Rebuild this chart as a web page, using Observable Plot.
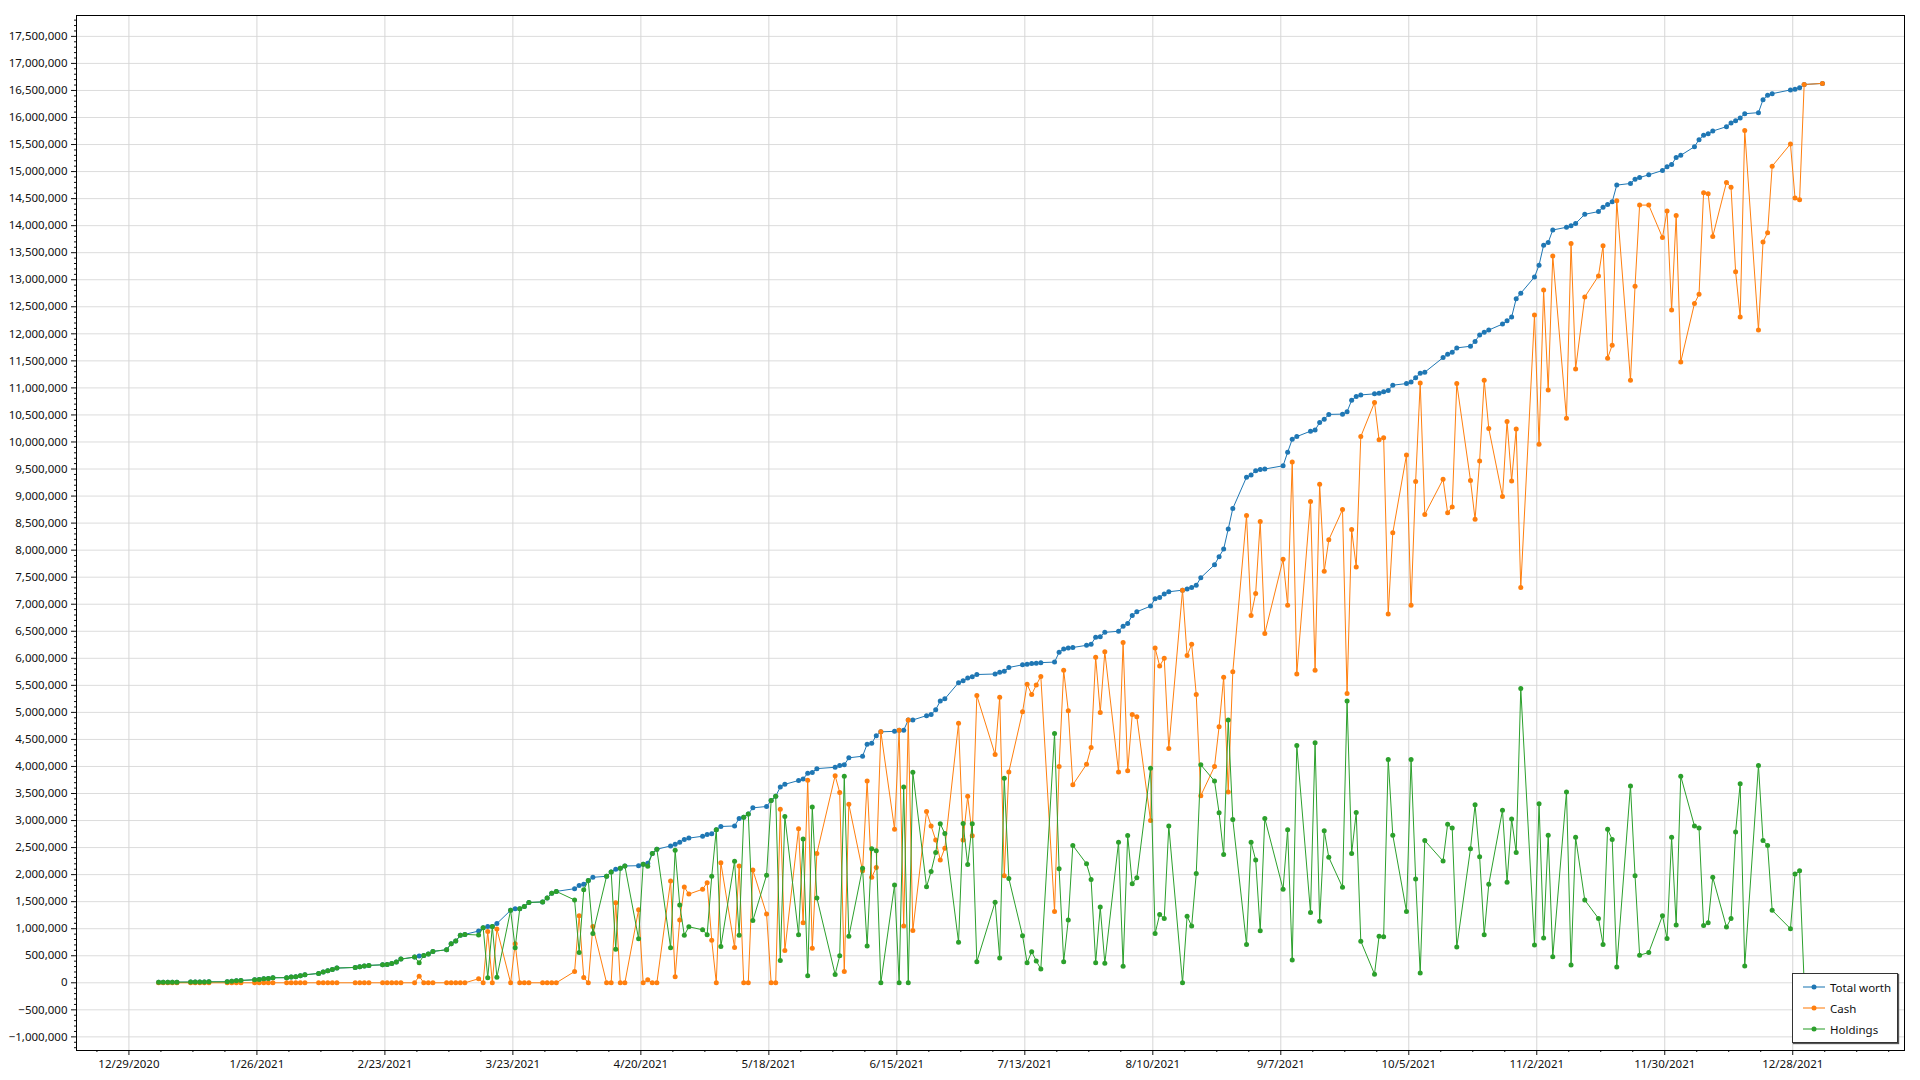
<!DOCTYPE html>
<html>
<head>
<meta charset="utf-8">
<script src="https://cdn.jsdelivr.net/npm/d3@7"></script>
<script src="https://cdn.jsdelivr.net/npm/@observablehq/plot@0.6"></script>
<style>
  html, body { margin: 0; padding: 0; background: #fff; overflow: hidden; }
  #wrap { position: relative; width: 1920px; height: 1080px; }
  #legend {
    position: absolute; left: 1792px; top: 973px; width: 104px; height: 68px;
    background: #fff; border: 1px solid #333; box-shadow: 1px 1px 1px #555;
    font-family: "Noto Sans", "Open Sans", sans-serif; font-size: 11.5px; color: #111;
    box-sizing: content-box;
  }
  #legend .row { position: absolute; left: 0; height: 20px; display: flex; align-items: center; }
  #legend svg { margin-left: 10px; margin-right: 5px; }
</style>
</head>
<body>
<div id="wrap"><div id="chart"></div><div id="legend"></div></div>
<script>
// ---------- data ----------
const dates = [
"2021-01-04","2021-01-05","2021-01-06","2021-01-07","2021-01-08","2021-01-11","2021-01-12","2021-01-13","2021-01-14","2021-01-15","2021-01-19","2021-01-20","2021-01-21","2021-01-22","2021-01-25","2021-01-26","2021-01-27","2021-01-28","2021-01-29",
"2021-02-01","2021-02-02","2021-02-03","2021-02-04","2021-02-05","2021-02-08","2021-02-09","2021-02-10","2021-02-11","2021-02-12","2021-02-16","2021-02-17","2021-02-18","2021-02-19","2021-02-22","2021-02-23","2021-02-24","2021-02-25","2021-02-26",
"2021-03-01","2021-03-02","2021-03-03","2021-03-04","2021-03-05","2021-03-08","2021-03-09","2021-03-10","2021-03-11","2021-03-12","2021-03-15","2021-03-16","2021-03-17","2021-03-18","2021-03-19","2021-03-22","2021-03-23","2021-03-24","2021-03-25","2021-03-26","2021-03-29","2021-03-30","2021-03-31",
"2021-04-01","2021-04-05","2021-04-06","2021-04-07","2021-04-08","2021-04-09","2021-04-12","2021-04-13","2021-04-14","2021-04-15","2021-04-16","2021-04-19","2021-04-20","2021-04-21","2021-04-22","2021-04-23","2021-04-26","2021-04-27","2021-04-28","2021-04-29","2021-04-30",
"2021-05-03","2021-05-04","2021-05-05","2021-05-06","2021-05-07","2021-05-10","2021-05-11","2021-05-12","2021-05-13","2021-05-14","2021-05-17","2021-05-18","2021-05-19","2021-05-20","2021-05-21","2021-05-24","2021-05-25","2021-05-26","2021-05-27","2021-05-28",
"2021-06-01","2021-06-02","2021-06-03","2021-06-04","2021-06-07","2021-06-08","2021-06-09","2021-06-10","2021-06-11","2021-06-14","2021-06-15","2021-06-16","2021-06-17","2021-06-18","2021-06-21","2021-06-22","2021-06-23","2021-06-24","2021-06-25","2021-06-28","2021-06-29","2021-06-30",
"2021-07-01","2021-07-02","2021-07-06","2021-07-07","2021-07-08","2021-07-09","2021-07-12","2021-07-13","2021-07-14","2021-07-15","2021-07-16","2021-07-19","2021-07-20","2021-07-21","2021-07-22","2021-07-23","2021-07-26","2021-07-27","2021-07-28","2021-07-29","2021-07-30",
"2021-08-02","2021-08-03","2021-08-04","2021-08-05","2021-08-06","2021-08-09","2021-08-10","2021-08-11","2021-08-12","2021-08-13","2021-08-16","2021-08-17","2021-08-18","2021-08-19","2021-08-20","2021-08-23","2021-08-24","2021-08-25","2021-08-26","2021-08-27","2021-08-30","2021-08-31",
"2021-09-01","2021-09-02","2021-09-03","2021-09-07","2021-09-08","2021-09-09","2021-09-10","2021-09-13","2021-09-14","2021-09-15","2021-09-16","2021-09-17","2021-09-20","2021-09-21","2021-09-22","2021-09-23","2021-09-24","2021-09-27","2021-09-28","2021-09-29","2021-09-30",
"2021-10-01","2021-10-04","2021-10-05","2021-10-06","2021-10-07","2021-10-08","2021-10-12","2021-10-13","2021-10-14","2021-10-15","2021-10-18","2021-10-19","2021-10-20","2021-10-21","2021-10-22","2021-10-25","2021-10-26","2021-10-27","2021-10-28","2021-10-29",
"2021-11-01","2021-11-02","2021-11-03","2021-11-04","2021-11-05","2021-11-08","2021-11-09","2021-11-10","2021-11-12","2021-11-15","2021-11-16","2021-11-17","2021-11-18","2021-11-19","2021-11-22","2021-11-23","2021-11-24","2021-11-26","2021-11-29","2021-11-30",
"2021-12-01","2021-12-02","2021-12-03","2021-12-06","2021-12-07","2021-12-08","2021-12-09","2021-12-10","2021-12-13","2021-12-14","2021-12-15","2021-12-16","2021-12-17","2021-12-20","2021-12-21","2021-12-22","2021-12-23","2021-12-27","2021-12-28","2021-12-29","2021-12-30",
"2022-01-03"
];

const totalWorth = [
8000,9000,10000,11000,12000,13000,14000,15000,16000,17000,18000,30000,37000,43000,56000,62000,74000,80000,93000,
95000,105000,111000,130000,148000,173000,198000,222000,247000,272000,284000,296000,309000,321000,333000,340000,358000,383000,438000,
475000,494000,506000,531000,580000,611000,722000,772000,877000,895000,957000,1020000,1040000,1040000,1095000,1340000,1370000,1370000,1410000,1485000,1495000,1570000,1655000,
1690000,1740000,1800000,1820000,1890000,1950000,1970000,2050000,2100000,2120000,2160000,2165000,2190000,2210000,2390000,2470000,2530000,2560000,2600000,2650000,2675000,
2710000,2740000,2755000,2830000,2890000,2900000,3040000,3060000,3120000,3235000,3260000,3370000,3450000,3620000,3670000,3740000,3770000,3875000,3890000,3960000,
3985000,4020000,4030000,4160000,4190000,4410000,4430000,4570000,4640000,4650000,4670000,4670000,4860000,4860000,4940000,4960000,5050000,5210000,5250000,5550000,5585000,5635000,
5660000,5700000,5710000,5740000,5760000,5830000,5880000,5890000,5905000,5910000,5920000,5930000,6110000,6170000,6190000,6200000,6240000,6260000,6390000,6400000,6480000,
6500000,6595000,6645000,6790000,6860000,6965000,7100000,7125000,7190000,7230000,7260000,7280000,7310000,7350000,7490000,7730000,7880000,8020000,8390000,8770000,9350000,9390000,
9470000,9490000,9500000,9560000,9810000,10050000,10100000,10200000,10220000,10360000,10420000,10510000,10515000,10560000,10770000,10840000,10870000,10890000,10900000,10930000,10950000,
11050000,11080000,11110000,11190000,11270000,11290000,11560000,11620000,11660000,11740000,11770000,11860000,11980000,12030000,12070000,12180000,12240000,12310000,12650000,12750000,
13050000,13270000,13640000,13690000,13920000,13970000,14000000,14040000,14210000,14260000,14340000,14390000,14440000,14750000,14780000,14860000,14890000,14940000,15020000,15090000,
15130000,15260000,15300000,15460000,15590000,15670000,15700000,15750000,15830000,15900000,15940000,15990000,16070000,16090000,16330000,16410000,16440000,16510000,16520000,16550000,16610000,
16630000
];

const cash = [
0,0,0,0,0,0,0,0,0,0,0,0,0,0,0,0,0,0,0,
0,0,0,0,0,0,0,0,0,0,0,0,0,0,0,0,0,0,0,
0,123000,0,0,0,0,0,0,0,0,74000,0,948000,0,993000,0,722000,0,0,0,0,0,0,
0,209000,1240000,98000,0,1040000,0,0,1480000,0,0,1350000,0,55000,0,0,1880000,111000,1160000,1770000,1640000,
1730000,1850000,787000,0,2220000,652000,2160000,0,0,2085000,1270000,0,0,3210000,597000,2850000,1110000,3745000,640000,2390000,
3830000,3520000,209000,3300000,2070000,3730000,1950000,2130000,4640000,2840000,4670000,1050000,4860000,967000,3165000,2900000,2640000,2270000,2490000,4800000,2640000,3450000,
2720000,5310000,4220000,5280000,1980000,3900000,5010000,5520000,5330000,5505000,5665000,1320000,4000000,5780000,5030000,3660000,4040000,4350000,6020000,5000000,6120000,
3900000,6290000,3920000,4960000,4920000,3000000,6190000,5860000,6000000,4330000,7260000,6050000,6260000,5330000,3460000,4000000,4735000,5650000,3530000,5750000,8640000,6790000,
7200000,8530000,6460000,7830000,6980000,9630000,5710000,8900000,5780000,9220000,7610000,8190000,8750000,5350000,8380000,7690000,10100000,10730000,10040000,10080000,6820000,
8320000,9760000,6980000,9270000,11090000,8660000,9310000,8690000,8800000,11080000,9290000,8570000,9650000,11140000,10250000,8990000,10380000,9280000,10240000,7310000,
12350000,9960000,12810000,10960000,13440000,10440000,13670000,11350000,12680000,13070000,13630000,11550000,11790000,14460000,11140000,12880000,14380000,14380000,13780000,14270000,
12440000,14190000,11480000,12560000,12730000,14610000,14590000,13800000,14800000,14710000,13150000,12310000,15760000,12070000,13700000,13870000,15100000,15510000,14510000,14480000,16610000,
16630000
];

const holdings = [
8000,9000,10000,11000,12000,13000,14000,15000,16000,17000,18000,30000,37000,43000,56000,62000,74000,80000,93000,
95000,105000,111000,130000,148000,173000,198000,222000,247000,272000,284000,296000,309000,321000,333000,340000,358000,383000,438000,
475000,371000,506000,531000,580000,611000,722000,772000,877000,895000,883000,1020000,92000,1040000,102000,1340000,648000,1370000,1410000,1485000,1495000,1570000,1655000,
1690000,1531000,560000,1722000,1890000,910000,1970000,2050000,620000,2120000,2160000,815000,2190000,2155000,2390000,2470000,650000,2449000,1440000,880000,1035000,
980000,890000,1968000,2830000,670000,2248000,880000,3060000,3120000,1150000,1990000,3370000,3450000,410000,3073000,890000,2660000,130000,3250000,1570000,
155000,500000,3821000,860000,2120000,680000,2480000,2440000,0,1810000,0,3620000,0,3893000,1775000,2060000,2410000,2940000,2760000,750000,2945000,2185000,
2940000,390000,1490000,460000,3780000,1930000,870000,370000,575000,405000,255000,4610000,2110000,390000,1160000,2540000,2200000,1910000,370000,1400000,360000,
2600000,305000,2725000,1830000,1940000,3965000,910000,1265000,1190000,2900000,0,1230000,1050000,2020000,4030000,3730000,3145000,2370000,4860000,3020000,710000,2600000,
2270000,960000,3040000,1730000,2830000,420000,4390000,1300000,4440000,1140000,2810000,2320000,1765000,5210000,2390000,3150000,770000,160000,860000,850000,4130000,
2730000,1320000,4130000,1920000,180000,2630000,2250000,2930000,2860000,660000,2480000,3290000,2330000,890000,1820000,3190000,1860000,3030000,2410000,5440000,
700000,3310000,830000,2730000,480000,3530000,330000,2690000,1530000,1190000,710000,2840000,2650000,290000,3640000,1980000,510000,560000,1240000,820000,
2690000,1070000,3820000,2900000,2860000,1060000,1110000,1950000,1030000,1190000,2790000,3680000,310000,4020000,2630000,2540000,1340000,1000000,2010000,2070000,0,
0
];

const xTickDates = ["2020-12-29","2021-01-26","2021-02-23","2021-03-23","2021-04-20","2021-05-18","2021-06-15","2021-07-13","2021-08-10","2021-09-07","2021-10-05","2021-11-02","2021-11-30","2021-12-28"];
const seriesNames = ["Total worth", "Cash", "Holdings"];
const seriesColors = ["#1f77b4", "#ff7f0e", "#2ca02c"];

// ---------- build ----------
const parseDay = s => new Date(s + "T12:00:00Z");
const rows = [];
const valueLists = [totalWorth, cash, holdings];
seriesNames.forEach((name, k) => {
  dates.forEach((d, i) => rows.push({date: parseDay(d), value: valueLists[k][i], series: name}));
});
if (dates.length !== totalWorth.length || dates.length !== cash.length || dates.length !== holdings.length) {
  console.error("length mismatch", dates.length, totalWorth.length, cash.length, holdings.length);
}

const xTicks = xTickDates.map(s => new Date(s + "T00:00:00Z"));
const yTicks = d3.range(-1000000, 17500001, 500000);
const yMinor = d3.range(-1200000, 17800001, 100000).filter(v => v % 500000 !== 0);
const xMinor = d3.utcDay.range(new Date("2020-12-22T00:00:00Z"), new Date("2022-01-20T00:00:00Z"), 7)
  .filter(d => !xTicks.some(t => +t === +d));

const marks = [
  Plot.gridY(yTicks, {stroke: "#dcdcdc", strokeOpacity: 1}),
  Plot.gridX(xTicks, {stroke: "#d6d6d6", strokeOpacity: 1}),
  Plot.axisY(yMinor, {tickSize: 2, tickFormat: () => "", label: null}),
  Plot.axisY(yTicks, {tickSize: 5, tickPadding: 4, tickFormat: d3.format(","), label: null}),
  Plot.axisX(xMinor, {tickSize: 2, tickFormat: () => "", label: null}),
  Plot.axisX(xTicks, {tickSize: 5, tickPadding: 4, tickFormat: d3.utcFormat("%-m/%-d/%Y"), label: null}),
];
seriesNames.forEach((name, k) => {
  const sub = rows.filter(r => r.series === name);
  marks.push(Plot.line(sub, {x: "date", y: "value", stroke: seriesColors[k], strokeWidth: 1}));
  marks.push(Plot.dot(sub, {x: "date", y: "value", fill: seriesColors[k], r: 2.5, stroke: "none"}));
});
marks.push(Plot.frame({stroke: "#000", strokeWidth: 1}));

const chart = Plot.plot({
  width: 1920,
  height: 1080,
  marginLeft: 76,
  marginRight: 16,
  marginTop: 15,
  marginBottom: 30,
  x: {type: "utc", domain: [new Date("2020-12-17T12:43:00Z"), new Date("2022-01-21T10:48:00Z")]},
  y: {domain: [-1252000, 17886000]},
  style: {fontFamily: "'Noto Sans', 'Open Sans', sans-serif", fontSize: "11.5px", color: "#111", background: "#fff", overflow: "visible"},
  marks
});
document.getElementById("chart").appendChild(chart);

// ---------- legend ----------
const legend = document.getElementById("legend");
seriesNames.forEach((name, k) => {
  const row = document.createElement("div");
  row.className = "row";
  row.style.top = (3 + k * 21) + "px";
  row.innerHTML = `<svg width="22" height="8"><line x1="0" x2="22" y1="4" y2="4" stroke="${seriesColors[k]}" stroke-width="1.5" stroke-opacity="0.7"/><circle cx="11" cy="4" r="2.5" fill="${seriesColors[k]}"/></svg><span>${name}</span>`;
  legend.appendChild(row);
});
</script>
</body>
</html>
